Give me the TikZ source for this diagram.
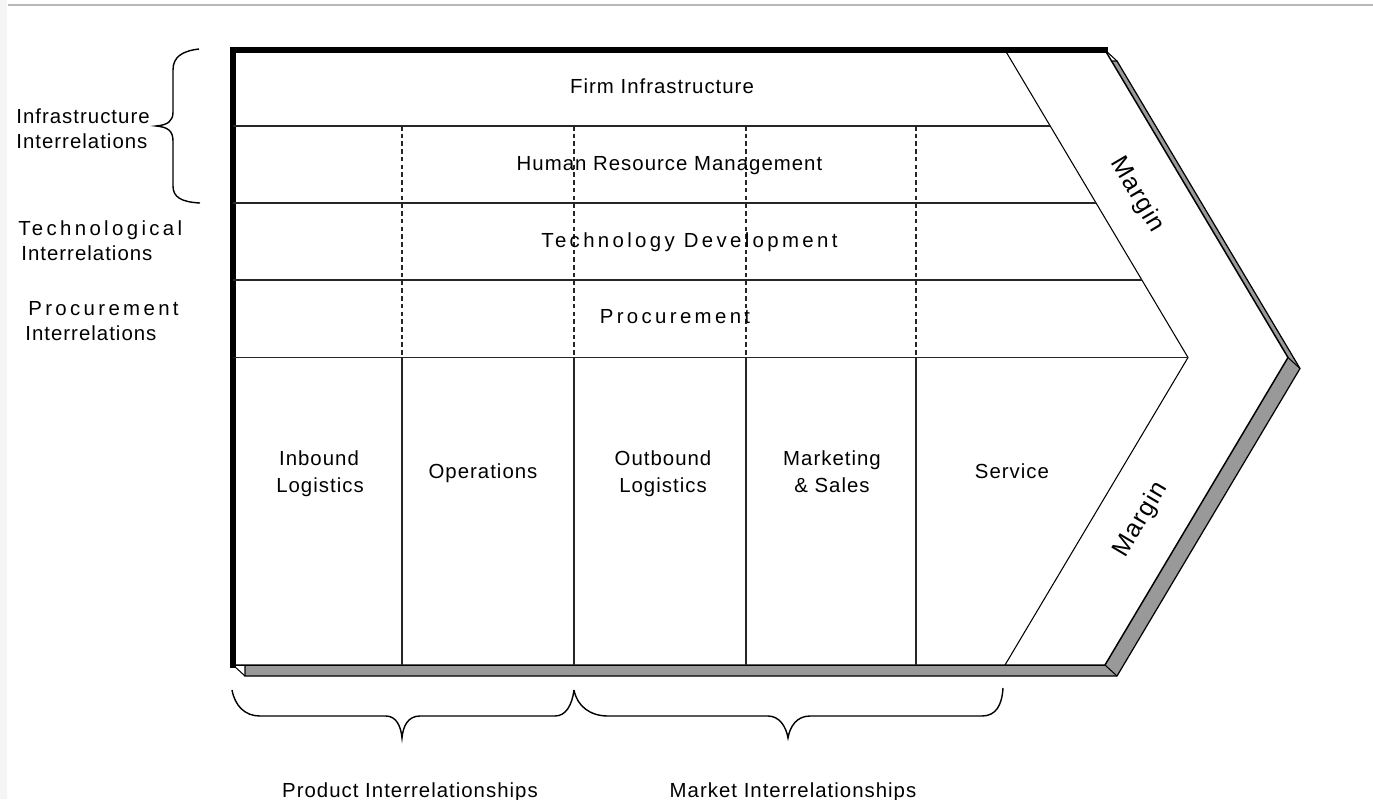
\documentclass[tikz,border=0pt]{standalone}
\usepackage{fontspec}
\setmainfont{Liberation Sans}
\newfontfamily\vcnormal[LetterSpace=5]{Liberation Sans}
\newfontfamily\vcwide[LetterSpace=16.5]{Liberation Sans}
\usetikzlibrary{calc}
\begin{document}
\begin{tikzpicture}[x=0.02cm,y=-0.02cm,
  txt/.style={inner sep=0pt, anchor=base, font=\vcnormal\fontsize{11.6}{14}\selectfont},
  widetxt/.style={inner sep=0pt, anchor=base, font=\vcwide\fontsize{11.6}{14}\selectfont},
  margintxt/.style={inner sep=0pt, font=\vcnormal\fontsize{14.2}{17}\selectfont},
  outline/.style={draw=black, line width=0.85pt, line join=miter},
  shadowfill/.style={fill=black!40, draw=black, line width=0.7pt},
  rowline/.style={draw=black!85, line width=1.1pt},
  colline/.style={draw=black!85, line width=1.1pt},
  dashcol/.style={draw=black!85, line width=1.1pt, dash pattern=on 2.6pt off 1.8pt},
  thinline/.style={draw=black, line width=0.6pt},
  bracepath/.style={draw=black, line width=0.8pt},
]
\useasboundingbox (0,0) rectangle (1373,799);
% page frame details
\fill[black!4] (0,0) rectangle (7,799);
\draw[black!28, line width=1.2pt] (8,5) -- (1373,5);

% outer chevron corners
\coordinate (TL) at (233,50);
\coordinate (TR) at (1105,50);
\coordinate (TIP) at (1288,357.5);
\coordinate (BR) at (1105,665);
\coordinate (BL) at (233,665);
% inner margin boundary
\coordinate (IT) at (1005,50);
\coordinate (IP) at (1188,357.5);
\coordinate (IB) at (1005,665);

% drop shadow of the chevron
\path[shadowfill] ($(TL)+(12,11)$) -- ($(TR)+(12,11)$) -- ($(TIP)+(12,11)$)
  -- ($(BR)+(12,11)$) -- ($(BL)+(12,11)$) -- cycle;
\draw[thinline] (TR) -- ($(TR)+(12,11)$);
\draw[thinline] (TIP) -- ($(TIP)+(12,11)$);
\draw[thinline] (BR) -- ($(BR)+(12,11)$);
\draw[thinline] (BL) -- ($(BL)+(12,11)$);

% chevron body
\path[outline, fill=white] (TL) -- (TR) -- (TIP) -- (BR) -- (BL) -- cycle;
\draw[line width=3.4pt, line cap=rect] (BL) -- (TL) -- (TR);

% margin boundary
\draw[thinline] (IT) -- (IP) -- (IB);

% support activity rows
\draw[rowline] (233,126) -- ($(IT)!{76/307.5}!(IP)$);
\draw[rowline] (233,203) -- ($(IT)!{153/307.5}!(IP)$);
\draw[rowline] (233,280) -- ($(IT)!{230/307.5}!(IP)$);
\draw[rowline] (233,357.5) -- (IP);

% primary activity columns (dashed through the support rows)
\foreach \cx in {402,574,746,916} {
  \draw[dashcol] (\cx,126) -- (\cx,357.5);
  \draw[colline] (\cx,357.5) -- (\cx,665);
}

% support activities
\node[txt] (firm) at (662,93) {Firm Infrastructure};
\node[txt] (hrm) at (669.5,170) {Human Resource Management};
\node[widetxt] (tech) at (689.5,247) {Technology Development};
\node[widetxt] (proc) at (675,323) {Procurement};

% primary activities
\node[txt] (inb1) at (319,465) {Inbound};
\node[txt] (inb2) at (320,492) {Logistics};
\node[txt] (ops) at (483,478) {Operations};
\node[txt] (outb1) at (663,465) {Outbound};
\node[txt] (outb2) at (663,492) {Logistics};
\node[txt] (mkt1) at (832,465) {Marketing};
\node[txt] (mkt2) at (832,492) {\& Sales};
\node[txt] (serv) at (1012,478) {Service};

% margin labels
\node[margintxt, rotate=-59.4] (mtop) at (1137,195) {Margin};
\node[margintxt, rotate=59.3] (mbot) at (1141,520) {Margin};

% interrelation labels on the left
\node[txt, anchor=base west] (infra1) at (16,123) {Infrastructure};
\node[txt, anchor=base west] (infra2) at (16,148) {Interrelations};
\node[widetxt, anchor=base west] (techl1) at (18,235) {Technological};
\node[txt, anchor=base west] (techl2) at (21,260) {Interrelations};
\node[widetxt, anchor=base west] (procl1) at (28,315) {Procurement};
\node[txt, anchor=base west] (procl2) at (25,340) {Interrelations};

% brace grouping the upper two rows
\draw[bracepath] (199,49) .. controls (182,51) and (173,57) .. (173,70)
  -- (173,112) .. controls (173,121) and (168,125) .. (156,126)
  .. controls (168,127) and (173,131) .. (173,141)
  -- (173,186) .. controls (173,197) and (181,202) .. (200,203);

% braces under the primary activities
\draw[bracepath] (232,690) .. controls (235,706) and (245,716) .. (260,716)
  -- (386,716) .. controls (396,716) and (401,726) .. (402,738)
  .. controls (403,726) and (408,716) .. (420,716)
  -- (555,716) .. controls (566,716) and (572,705) .. (574,690);
\draw[bracepath] (574,690) .. controls (577,706) and (590,716) .. (608,716)
  -- (768,716) .. controls (779,716) and (786,726) .. (788,738)
  .. controls (790,726) and (797,716) .. (810,716)
  -- (982,716) .. controls (996,716) and (1002,705) .. (1003,688);

\node[txt] (prodrel) at (410,797) {Product Interrelationships};
\node[txt] (mktrel) at (793,797) {Market Interrelationships};
\end{tikzpicture}
\end{document}
